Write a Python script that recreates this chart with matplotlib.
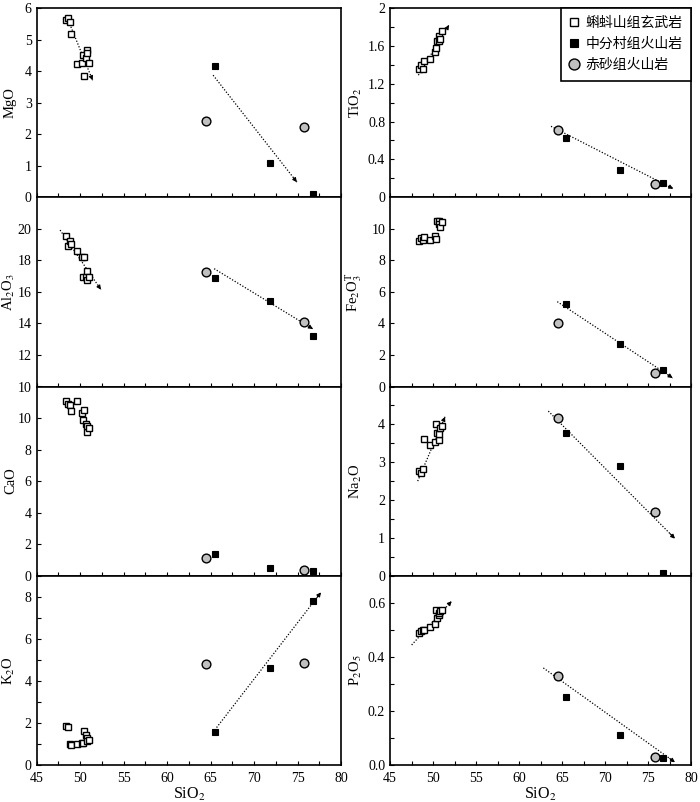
#!/usr/bin/env python3

import matplotlib.pyplot as plt
import numpy as np
from matplotlib.ticker import FixedLocator, FormatStrFormatter, MultipleLocator

plt.rcParams["font.family"] = ["Liberation Serif", "DejaVu Serif"]
plt.rcParams["mathtext.fontset"] = "stix"

group_names = ["蝌蚪山组玄武岩", "中分村组火山岩", "赤砂组火山岩"]

# SiO2 (wt%) per group
sio2_kds = [48.35, 48.6, 48.8, 49.0, 49.7, 50.2, 50.35, 50.5, 50.65, 50.75, 50.85, 51.0]
sio2_zfc = [65.5, 71.8, 76.8]
sio2_cs = [64.5, 75.8]

# oxides, same sample order as the SiO2 lists
mgo_kds = [5.62, 5.68, 5.56, 5.16, 4.21, 4.26, 4.52, 3.83, 4.42, 4.68, 4.56, 4.25]
mgo_zfc = [4.17, 1.08, 0.11]
mgo_cs = [2.42, 2.23]

al2o3_kds = [19.53, 18.92, 19.21, 19.04, 18.58, 18.2, 16.94, 18.18, 16.95, 17.35, 16.75, 16.95]
al2o3_zfc = [16.86, 15.41, 13.23]
al2o3_cs = [17.28, 14.08]

cao_kds = [11.05, 10.88, 10.8, 10.45, 11.1, 10.35, 9.85, 10.5, 9.6, 9.1, 9.5, 9.38]
cao_zfc = [1.4, 0.47, 0.3]
cao_cs = [1.1, 0.34]

k2o_kds = [1.85, 1.8, 1.02, 0.97, 0.98, 1.03, 1.06, 1.6, 1.45, 1.3, 1.15, 1.2]
k2o_zfc = [1.55, 4.59, 7.78]
k2o_cs = [4.81, 4.83]

tio2_kds = [1.36, 1.40, 1.36, 1.44, 1.46, 1.54, 1.58, 1.65, 1.70, 1.65, 1.67, 1.76]
tio2_zfc = [0.63, 0.29, 0.15]
tio2_cs = [0.71, 0.14]

fe2o3_kds = [9.25, 9.4, 9.3, 9.5, 9.3, 9.52, 9.33, 10.5, 10.52, 10.3, 10.1, 10.4]
fe2o3_zfc = [5.23, 2.69, 1.03]
fe2o3_cs = [4.04, 0.88]

na2o_kds = [2.78, 2.72, 2.82, 3.6, 3.45, 3.54, 4.0, 3.76, 3.58, 3.74, 3.9, 3.95]
na2o_zfc = [3.78, 2.89, 0.08]
na2o_cs = [4.17, 1.68]

p2o5_kds = [0.488, 0.495, 0.498, 0.50, 0.512, 0.522, 0.575, 0.544, 0.556, 0.563, 0.569, 0.572]
p2o5_zfc = [0.25, 0.1125, 0.025]
p2o5_cs = [0.329, 0.031]

# trend arrows: (start, end) in (SiO2, oxide)
mgo_trends = [((48.56, 5.67), (51.45, 3.71)), ((65.3, 3.87), (74.93, 0.48))]
al2o3_trends = [((47.71, 19.92), (52.41, 16.14)), ((65.42, 17.47), (76.77, 13.65))]
cao_trends = []
k2o_trends = [((65.7, 1.78), (77.7, 8.21))]
tio2_trends = [((48.3, 1.29), (51.86, 1.82)), ((63.72, 0.75), (77.94, 0.09))]
fe2o3_trends = [((64.45, 5.38), (77.87, 0.54))]
na2o_trends = [((48.22, 2.5), (51.4, 4.2)), ((63.41, 4.35), (78.14, 0.98))]
p2o5_trends = [((47.52, 0.444), (52.17, 0.606)), ((62.83, 0.359), (78.14, 0.01))]

panels = [
    # column, row, label, basalt, zfc, cs, trends, ylim, major, minor, fmt
    (0, 0, "MgO", mgo_kds, mgo_zfc, mgo_cs, mgo_trends, (0, 6), 1, None, "%g"),
    (0, 1, "Al$_2$O$_3$", al2o3_kds, al2o3_zfc, al2o3_cs, al2o3_trends, (10, 22), 2, None, "%g"),
    (0, 2, "CaO", cao_kds, cao_zfc, cao_cs, cao_trends, (0, 12), 2, None, "%g"),
    (0, 3, "K$_2$O", k2o_kds, k2o_zfc, k2o_cs, k2o_trends, (0, 9), 2, 1, "%g"),
    (1, 0, "TiO$_2$", tio2_kds, tio2_zfc, tio2_cs, tio2_trends, (0, 2), 0.4, 0.2, "%g"),
    (1, 1, "Fe$_2$O$_3^\\mathrm{T}$", fe2o3_kds, fe2o3_zfc, fe2o3_cs, fe2o3_trends, (0, 12), 2, None, "%g"),
    (1, 2, "Na$_2$O", na2o_kds, na2o_zfc, na2o_cs, na2o_trends, (0, 5), 1, 0.5, "%g"),
    (1, 3, "P$_2$O$_5$", p2o5_kds, p2o5_zfc, p2o5_cs, p2o5_trends, (0, 0.7), 0.2, 0.1, "%.1f"),
]


def draw_trend(ax, start, end):
    ax.plot([start[0], end[0]], [start[1], end[1]], color="black", lw=0.9,
            ls=(0, (1, 1.4)), zorder=1)
    tail = (start[0] + 0.96 * (end[0] - start[0]), start[1] + 0.96 * (end[1] - start[1]))
    ax.annotate("", xy=end, xytext=tail,
                arrowprops=dict(arrowstyle="-|>", color="black", lw=0.8,
                                mutation_scale=6, shrinkA=0, shrinkB=0),
                zorder=1)


W, H = 700, 802
fig = plt.figure(figsize=(W / 100, H / 100), dpi=100)

col_left = [36.5, 390]
col_width = [304.5, 301]
label_x = [-0.064, -0.085]
top_px, bottom_px = 8, 765
row_h = (bottom_px - top_px) / 4

for col, row, label, kds, zfc, cs, trends, ylim, major, minor, fmt in panels:
    y0 = top_px + row * row_h
    ax = fig.add_axes([col_left[col] / W, 1 - (y0 + row_h) / H,
                       col_width[col] / W, row_h / H])

    for start, end in trends:
        draw_trend(ax, start, end)

    ax.plot(sio2_kds, kds, ls="none", marker="s", ms=5, mfc="white", mec="black",
            mew=1.0, zorder=3, label=group_names[0])
    ax.plot(sio2_cs, cs, ls="none", marker="o", ms=6.3, mfc="#c0c0c0", mec="black",
            mew=1.0, zorder=3, label=group_names[2])
    ax.plot(sio2_zfc, zfc, ls="none", marker="s", ms=4.8, mfc="black", mec="black",
            mew=0.8, zorder=4, label=group_names[1])

    ax.set_xlim(45, 80)
    ax.set_ylim(*ylim)
    ax.xaxis.set_major_locator(MultipleLocator(5))
    ax.xaxis.set_minor_locator(MultipleLocator(2.5))

    yt = np.arange(ylim[0], ylim[1] + 1e-9, major)
    if row > 0:
        yt = yt[yt < ylim[1] - 1e-9]
    ax.yaxis.set_major_locator(FixedLocator(yt))
    ax.yaxis.set_major_formatter(FormatStrFormatter(fmt))
    if minor:
        ax.yaxis.set_minor_locator(MultipleLocator(minor))

    ax.tick_params(which="both", direction="in", length=3, width=0.8,
                   top=False, right=False, labelsize=10, pad=3.5)
    ax.tick_params(axis="x", pad=5, labelbottom=(row == 3))
    for s in ax.spines.values():
        s.set_linewidth(1.2)

    ax.set_ylabel(label, fontsize=10.5)
    ax.yaxis.set_label_coords(label_x[col], 0.5)
    if row == 3:
        ax.set_xlabel("SiO$_2$", fontsize=11.5, labelpad=1)

    if col == 1 and row == 0:
        h, l = ax.get_legend_handles_labels()
        order = [0, 2, 1]
        leg = ax.legend([h[i] for i in order], [l[i] for i in order],
                        loc="upper right", borderaxespad=0, fancybox=False,
                        framealpha=1, edgecolor="black", handlelength=0.8,
                        handletextpad=0.4, borderpad=0.6, labelspacing=0.5,
                        markerscale=1.25,
                        prop={"family": ["Noto Sans CJK SC"], "size": 10})
        leg.get_frame().set_linewidth(1.2)

fig.savefig("out.png", dpi=100)
